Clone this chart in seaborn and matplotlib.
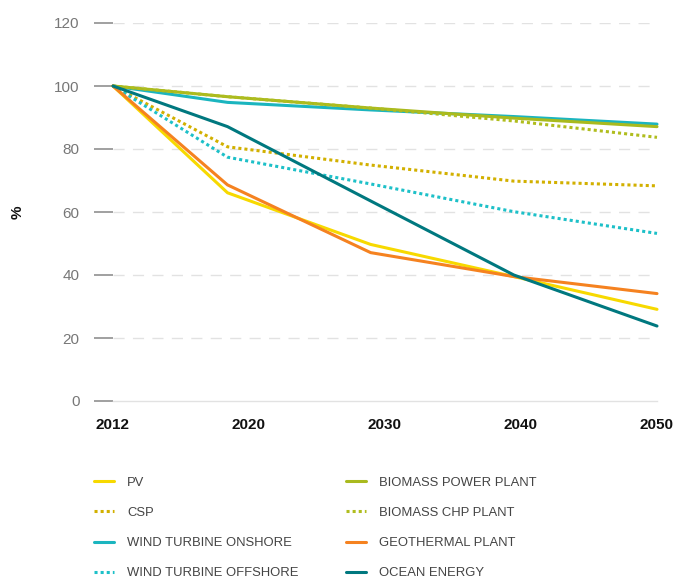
import matplotlib
matplotlib.use("Agg")
import matplotlib.pyplot as plt
import seaborn as sns
import pandas as pd
import numpy as np

# data
years = [2012, 2020, 2030, 2040, 2050]
tick_labels = ["2012", "2020", "2030", "2040", "2050"]
techs = ["PV", "CSP", "WIND TURBINE ONSHORE", "WIND TURBINE OFFSHORE",
         "BIOMASS POWER PLANT", "BIOMASS CHP PLANT", "GEOTHERMAL PLANT", "OCEAN ENERGY"]
pv = [100, 66.1, 49.7, 39.5, 29.1]
csp = [100, 80.7, 74.9, 69.8, 68.3]
wind_on = [100, 94.8, 92.4, 90.3, 87.9]
wind_off = [100, 77.4, 68.9, 60.1, 53.2]
bio_power = [100, 96.6, 93.0, 89.8, 87.1]
bio_chp = [100, 96.6, 93.0, 88.9, 83.7]
geo = [100, 68.6, 47.1, 39.5, 34.1]
ocean = [100, 87.1, 63.5, 40.0, 23.8]

series = [pv, csp, wind_on, wind_off, bio_power, bio_chp, geo, ocean]
colors = ["#F7D900", "#D2B000", "#1BB5BF", "#1DC0C8",
          "#A9BA1E", "#B0BD1E", "#F58220", "#00787F"]
dotted = [False, True, False, True, False, True, False, False]

df = pd.DataFrame({
    "year": years * len(techs),
    "value": sum(series, []),
    "tech": np.repeat(techs, len(years)),
})

sns.set_theme(style="white")
plt.rcParams["font.family"] = ["Liberation Sans", "DejaVu Sans"]

fig = plt.figure(figsize=(6.76, 5.79), dpi=100)
ax = fig.add_axes([113 / 676, 1 - 401 / 579, 544 / 676, 378 / 579])

sns.lineplot(data=df, x="year", y="value", hue="tech", style="tech",
             hue_order=techs, style_order=techs,
             palette=dict(zip(techs, colors)),
             dashes={t: ((1, 1) if d else "") for t, d in zip(techs, dotted)},
             linewidth=2.2, legend=False, ax=ax, clip_on=False)

ax.set_xlim(2012, 2050)
ax.set_ylim(0, 120)
ax.set_yticks(range(0, 121, 20))
ax.set_xticks(np.linspace(2012, 2050, 5))
ax.set_xticklabels(tick_labels, fontsize=11, fontweight="bold", color="#111111")
ax.set_xlabel("")
ax.set_ylabel("%", fontsize=11, fontweight="bold", color="#111111", labelpad=21)

for y in range(20, 121, 20):
    ax.axhline(y, color="#e2e2e2", lw=1, dashes=(8, 6), zorder=0)
for s in ["top", "right", "left"]:
    ax.spines[s].set_visible(False)
ax.spines["bottom"].set_color("#e2e2e2")
ax.spines["bottom"].set_linewidth(1)

ax.tick_params(axis="y", length=14, width=1.4, color="#a0a0a0", pad=10,
               labelsize=11, labelcolor="#777777", left=True)
ax.tick_params(axis="x", length=0, pad=12)

# legend
handles = []
for c, d in zip(colors, dotted):
    h = plt.Line2D([], [], color=c, lw=2.2)
    if d:
        h.set_dashes((1, 1))
    handles.append(h)
leg = fig.legend(handles, techs, ncol=2, loc="upper left",
                 bbox_to_anchor=(82 / 676, 1 - 465 / 579), frameon=False,
                 fontsize=9.4, handlelength=1.55, handletextpad=1.0,
                 columnspacing=3.6, labelspacing=1.38)
for t in leg.get_texts():
    t.set_color("#444444")

fig.savefig("out.png", dpi=100)
